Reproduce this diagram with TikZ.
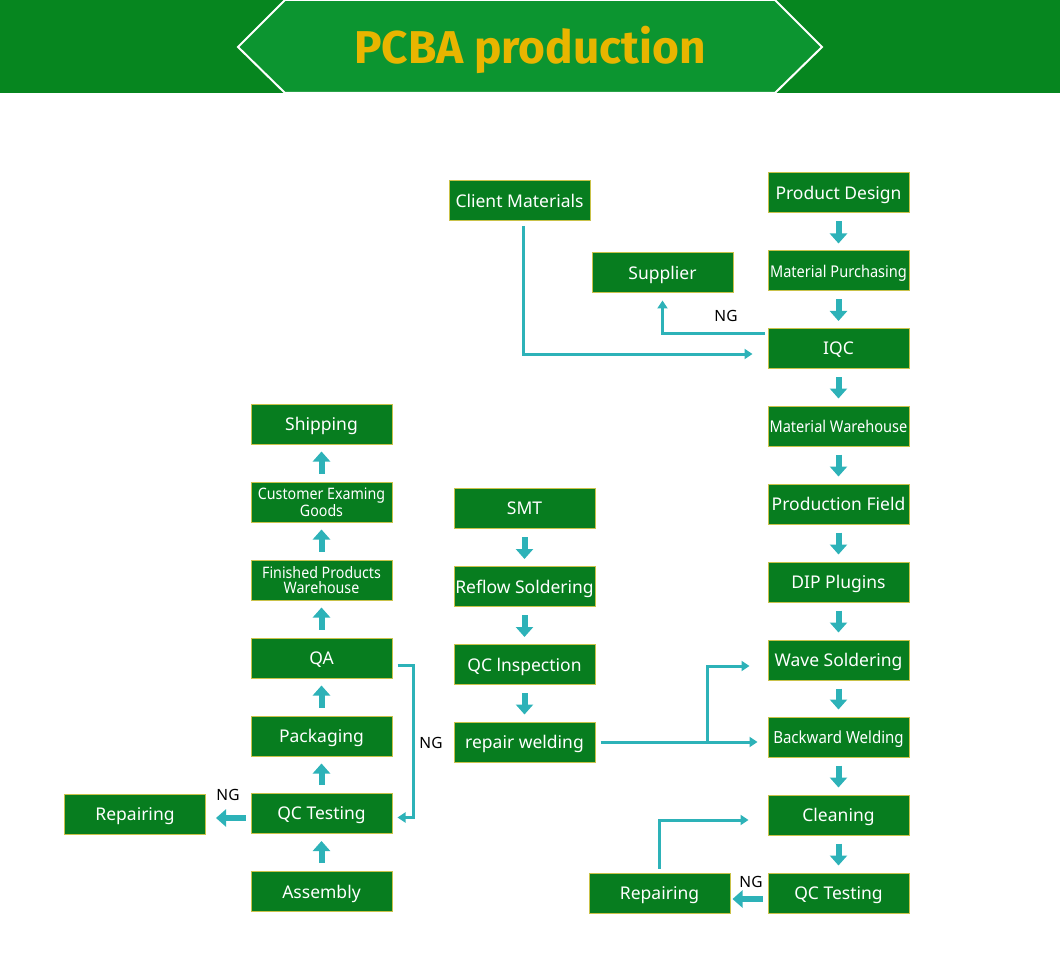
\documentclass[tikz,border=0pt]{standalone}
\usepackage{fontspec}
\setmainfont{Noto Sans}
\newfontfamily\condfont[FakeStretch=0.9]{Noto Sans}
\newfontfamily\titlefont{Fira Sans}
\usetikzlibrary{arrows.meta}
\definecolor{boxg}{HTML}{077D1F}
\definecolor{boxb}{HTML}{C9C24A}
\definecolor{arr}{HTML}{2DB2B8}
\definecolor{hdark}{HTML}{06861F}
\definecolor{hlight}{HTML}{0C9530}
\definecolor{ttl}{HTML}{E8B500}
\begin{document}
\begin{tikzpicture}[x=1pt,y=-1pt,
 box/.style={draw=boxb, line width=1pt, fill=boxg, text=white, minimum width=141pt, minimum height=40pt, inner sep=1pt, text depth=0pt, font=\fontsize{17.5}{19}\selectfont, align=center},
 narrow/.style={font=\condfont\fontsize{16.2}{17}\selectfont},
 narrowb/.style={font=\condfont\fontsize{16.7}{17}\selectfont},
 twoline/.style={font=\condfont\fontsize{15.8}{15}\selectfont},
 blk/.style={draw=arr, line width=6pt, -{Triangle[width=17pt,length=10pt]}},
 thin/.style={draw=arr, line width=3pt, -{Triangle[width=10pt,length=8pt]}},
 ng/.style={font=\fontsize{15.5}{17}\selectfont, text=black}]
\useasboundingbox (0,0) rectangle (1060,968);
% header
\fill[hdark] (0,0) rectangle (1060,93);
\draw[white, line width=2pt, fill=hlight] (238,47) -- (285,0) -- (775,0) -- (822,47) -- (775,93) -- (285,93) -- cycle;
\node[text=ttl, font=\titlefont\bfseries\fontsize{46}{50}\selectfont] (title) at (530,50) {PCBA production};
% right column
\node[box] (pd) at (838.5,193) {Product Design};
\node[box,narrow] (mp) at (838.5,271) {Material Purchasing};
\node[box] (iqc) at (838.5,348.5) {IQC};
\node[box,narrow] (mw) at (838.5,426) {Material Warehouse};
\node[box] (pf) at (838.5,504) {Production Field};
\node[box] (dip) at (838.5,582) {DIP Plugins};
\node[box] (ws) at (838.5,660) {Wave Soldering};
\node[box,narrowb] (bw) at (838.5,737) {Backward Welding};
\node[box] (cl) at (838.5,815) {Cleaning};
\node[box] (qcr) at (838.5,893) {QC Testing};
\node[box] (cm) at (519.5,200.5) {Client Materials};
\node[box] (sup) at (662.5,273) {Supplier};
\node[box] (rpr) at (659.5,893) {Repairing};
% middle column
\node[box] (smt) at (524.5,508.5) {SMT};
\node[box] (rs) at (524.5,586.5) {Reflow Soldering};
\node[box] (qci) at (524.5,664.5) {QC lnspection};
\node[box] (rw) at (524.5,742) {repair welding};
% left column
\node[box] (ship) at (321.5,424) {Shipping};
\node[box,twoline] (ceg) at (321.5,502) {Customer Examing\\Goods};
\node[box,twoline] (fpw) at (321.5,580) {Finished Products\\Warehouse};
\node[box] (qa) at (321.5,658) {QA};
\node[box] (pk) at (321.5,736) {Packaging};
\node[box] (qct) at (321.5,813.5) {QC Testing};
\node[box] (asm) at (321.5,891.5) {Assembly};
\node[box] (rpl) at (135,814) {Repairing};
% block arrows down
\foreach \a/\b in {pd/mp,mp/iqc,iqc/mw,mw/pf,pf/dip,dip/ws,ws/bw,bw/cl,cl/qcr,smt/rs,rs/qci,qci/rw}
  \draw[blk] ([yshift=-8pt]\a.south) -- ([yshift=7pt]\b.north);
% block arrows up
\foreach \a/\b in {asm/qct,qct/pk,pk/qa,qa/fpw,fpw/ceg,ceg/ship}
  \draw[blk] ([yshift=8pt]\a.north) -- ([yshift=-7pt]\b.south);
% NG block arrows
\draw[blk] ([xshift=-5pt,yshift=-4.5pt]qct.west) -- ([xshift=10pt,yshift=-4.5pt]qct.west -| rpl.east);
\draw[blk] ([xshift=-5pt,yshift=-6pt]qcr.west) -- ([xshift=2pt,yshift=-6pt]qcr.west -| rpr.east);
% thin connectors
\draw[thin] ([xshift=3.5pt,yshift=-5pt]cm.south) |- ([xshift=-15pt,yshift=-5.5pt]iqc.west);
\draw[thin] ([xshift=-3pt,yshift=15pt]iqc.west) -| ([yshift=-7pt]sup.south);
\draw[thin] ([xshift=5pt,yshift=-7pt]qa.east) -- ++(16,0) |- ([xshift=5pt,yshift=-4pt]qct.east);
\draw[thin] ([xshift=5pt]rw.east) -- ([xshift=-10pt]rw.east -| bw.west);
\draw[thin] ([xshift=-60pt]rw.east -| bw.west) |- ([xshift=-18pt,yshift=-6pt]ws.west);
\draw[thin] ([yshift=4pt]rpr.north) |- ([xshift=-19pt,yshift=-5pt]cl.west);
% NG labels
\node[ng] (ng1) at (726,316) {NG};
\node[ng] (ng2) at (431,743) {NG};
\node[ng] (ng3) at (228,795) {NG};
\node[ng] (ng4) at (751,882) {NG};
\end{tikzpicture}
\end{document}
